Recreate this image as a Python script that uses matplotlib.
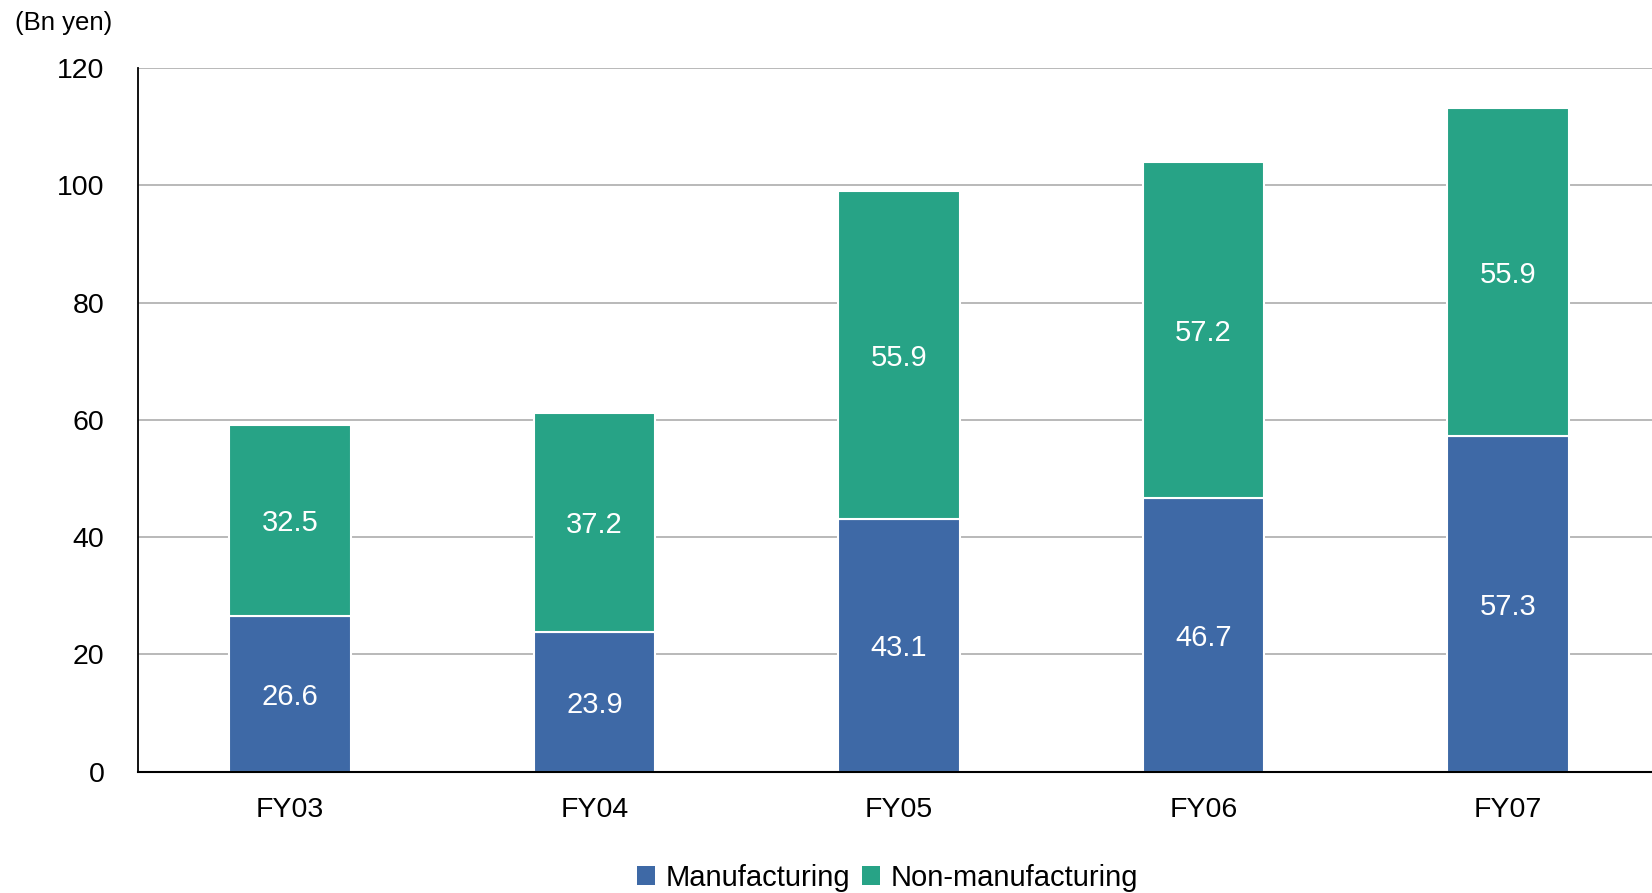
import matplotlib
matplotlib.use("Agg")
import matplotlib.pyplot as plt
import numpy as np

categories = ["FY03", "FY04", "FY05", "FY06", "FY07"]
manufacturing = [26.6, 23.9, 43.1, 46.7, 57.3]
non_manufacturing = [32.5, 37.2, 55.9, 57.2, 55.9]
yticks = [0, 20, 40, 60, 80, 100, 120]

BLUE = "#3E69A6"
GREEN = "#27A386"

plt.rcParams['font.family'] = ['Liberation Sans', 'DejaVu Sans']

fig = plt.figure(figsize=(16.52, 8.93), dpi=100)
ax_left, ax_bottom_px, ax_top_px = 137.7, 771.7, 68.0
cat_px = 304.5
ax = fig.add_axes([ax_left/1652, 1 - ax_bottom_px/893, len(categories)*cat_px/1652,
                   (ax_bottom_px-ax_top_px)/893])

x = np.arange(len(categories))
w = 0.4
b1 = ax.bar(x, manufacturing, width=w, color=BLUE, edgecolor="white", linewidth=1.5, zorder=3)
b2 = ax.bar(x, non_manufacturing, width=w, bottom=manufacturing, color=GREEN,
            edgecolor="white", linewidth=1.5, zorder=3)

for rect, v in zip(b1, manufacturing):
    ax.text(rect.get_x() + rect.get_width()/2, rect.get_y() + rect.get_height()/2,
            f"{v:.1f}", ha="center", va="center_baseline", color="white", fontsize=21, zorder=4)
for rect, v in zip(b2, non_manufacturing):
    ax.text(rect.get_x() + rect.get_width()/2, rect.get_y() + rect.get_height()/2,
            f"{v:.1f}", ha="center", va="center_baseline", color="white", fontsize=21, zorder=4)

ax.set_xlim(-0.5, len(categories) - 0.5)
ax.set_ylim(0, 120)
ax.set_yticks(yticks)
ax.set_xticks(x)
ax.set_xticklabels(categories)
ax.tick_params(axis="y", length=0, pad=24, labelsize=20.5)
ax.tick_params(axis="x", length=0, pad=18, labelsize=20.5)
ax.yaxis.grid(True, color="#A6A6A6", linewidth=1.1, zorder=1)
ax.set_axisbelow(True)
for s in ["top", "right"]:
    ax.spines[s].set_visible(False)
ax.spines["left"].set_color("black")
ax.spines["left"].set_linewidth(1.3)
ax.spines["bottom"].set_color("black")
ax.spines["bottom"].set_linewidth(1.5)
ax.spines["left"].set_zorder(5)
ax.spines["bottom"].set_zorder(5)

fig.text(15/1652, 1 - 23/893, "(Bn yen)", ha="left", va="center", fontsize=18.5)

leg = fig.legend([b1, b2], ["Manufacturing", "Non-manufacturing"], loc="center",
                 bbox_to_anchor=(887.5/1652, 1 - 878/893), ncol=2, frameon=False,
                 fontsize=21, handlelength=0.62, handleheight=0.62, handletextpad=0.35,
                 columnspacing=0.4)
for h in leg.legend_handles:
    h.set_edgecolor("none")

fig.savefig("out.png", dpi=100)
